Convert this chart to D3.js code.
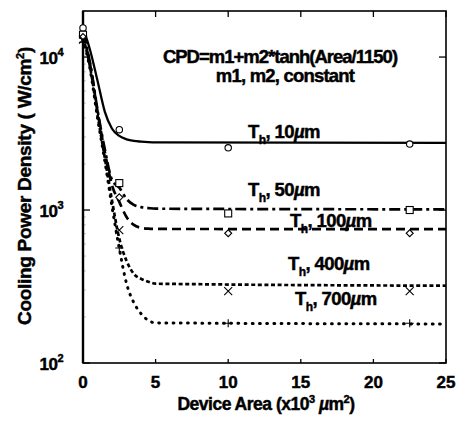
<!DOCTYPE html>
<html>
<head>
<meta charset="utf-8">
<script src="https://cdn.jsdelivr.net/npm/d3@7"></script>
<style>
  body { margin: 0; background: #fff; }
  svg text { font-family: "Liberation Sans", Arial, Helvetica, sans-serif; font-weight: bold; fill: #000; stroke: #000; stroke-width: 0.45; }
</style>
</head>
<body>
<div id="plotarea"></div>
<script>
// fitted curves (x in 10^3 um^2, y in W/cm^2)
var curveX = [0, 0.5, 1, 1.5, 2, 2.5, 3, 3.5, 4, 4.5, 5, 25];
var th10  = [15500, 11000, 7000, 4400, 3400, 3050, 2900, 2830, 2800, 2780, 2770, 2750];
var th50  = [14500, 9000, 4500, 2500, 1570, 1400, 1180, 1080, 1045, 1030, 1020, 1010];
var th100 = [14000, 8800, 4400, 2400, 1450, 1130, 900, 800, 765, 755, 752, 750];
var th400 = [13500, 8500, 4200, 2200, 1150, 650, 465, 383, 355, 340, 330, 320];
var th700 = [13000, 8200, 4000, 2100, 1050, 560, 330, 248, 210, 190, 183, 180];

// measured points
var pointX = [0, 2.5, 10, 22.5];
var pts10  = [15500, 3350, 2550, 2700];
var pts50  = [14000, 1500, 950, 1000];
var pts100 = [13500, 1210, 705, 705];
var pts400 = [13000, 740, 295, 295];
var pts700 = [12500, 565, 182, 182];

var seriesNames = ["10", "50", "100", "400", "700"];
var xTicks = [0, 5, 10, 15, 20, 25];
var yTicks = [100, 1000, 10000];

var W = 458, H = 422;
var margin_left = 83, margin_right = 12, margin_top = 11, margin_bottom = 59;

var svg = d3.select("#plotarea").append("svg")
  .attr("width", W).attr("height", H);

var x_axis = d3.scaleLinear().domain([0, 25]).range([margin_left, W - margin_right]);
var y_axis = d3.scaleLog().domain([100, 20000]).range([H - margin_bottom, margin_top]);

var series = [
  { name: seriesNames[0], curve: th10,  pts: pts10,  dash: null,        width: 2.3, cap: "butt",  mark: "circle" },
  { name: seriesNames[1], curve: th50,  pts: pts50,  dash: "11,4,3,4",  width: 2.7, cap: "butt",  mark: "square" },
  { name: seriesNames[2], curve: th100, pts: pts100, dash: "9,5",       width: 2.7, cap: "butt",  mark: "diamond" },
  { name: seriesNames[3], curve: th400, pts: pts400, dash: "4,2.6",     width: 2.7, cap: "butt",  mark: "cross" },
  { name: seriesNames[4], curve: th700, pts: pts700, dash: "0.8,6.4",   width: 3,   cap: "round", mark: "plus" }
];

// minor ticks (log), faint
var minor = [];
[100, 1000, 10000].forEach(function (d) {
  for (var k = 2; k <= 9; k++) { if (d * k <= 20000) minor.push(d * k); }
});
var x0 = x_axis(0), x1 = x_axis(25), y0 = y_axis(100), y1 = y_axis(20000);
svg.append("g").selectAll("line").data(minor).enter().append("line")
  .attr("x1", x0).attr("x2", x0 + 3)
  .attr("y1", function (d) { return y_axis(d); }).attr("y2", function (d) { return y_axis(d); })
  .attr("stroke", "#999").attr("stroke-width", 0.6);

// major ticks inward
var tk = svg.append("g").attr("stroke", "#000").attr("stroke-width", 1.3);
yTicks.forEach(function (d) {
  tk.append("line").attr("x1", x0).attr("x2", x0 + 7).attr("y1", y_axis(d)).attr("y2", y_axis(d));
  tk.append("line").attr("x1", x1).attr("x2", x1 - 7).attr("y1", y_axis(d)).attr("y2", y_axis(d));
});
xTicks.forEach(function (d) {
  tk.append("line").attr("x1", x_axis(d)).attr("x2", x_axis(d)).attr("y1", y1).attr("y2", y1 + 6);
  tk.append("line").attr("x1", x_axis(d)).attr("x2", x_axis(d)).attr("y1", y0).attr("y2", y0 - 4);
});

// frame
svg.append("rect").attr("x", x0).attr("y", y1).attr("width", x1 - x0).attr("height", y0 - y1)
  .attr("fill", "none").attr("stroke", "#000").attr("stroke-width", 1.6);
svg.append("line").attr("x1", x0).attr("x2", x0).attr("y1", y1).attr("y2", y0)
  .attr("stroke", "#000").attr("stroke-width", 2.4);

// curves
var line = d3.line()
  .x(function (d) { return x_axis(d[0]); })
  .y(function (d) { return y_axis(d[1]); })
  .curve(d3.curveMonotoneX);

series.forEach(function (s) {
  var data = curveX.map(function (v, i) { return [v, s.curve[i]]; });
  svg.append("path").datum(data)
    .attr("d", line)
    .attr("fill", "none").attr("stroke", "#000")
    .attr("stroke-width", s.width)
    .attr("stroke-linecap", s.cap)
    .attr("stroke-dasharray", s.dash);
});

// markers
series.forEach(function (s) {
  var g = svg.append("g").attr("fill", "#fff").attr("stroke", "#000").attr("stroke-width", 1.1);
  pointX.forEach(function (v, i) {
    var px = x_axis(v), py = y_axis(s.pts[i]);
    if (s.mark === "circle") g.append("circle").attr("cx", px).attr("cy", py).attr("r", 3.2);
    if (s.mark === "square") g.append("rect").attr("x", px - 3.5).attr("y", py - 3.5).attr("width", 7).attr("height", 7);
    if (s.mark === "diamond") g.append("path").attr("d", "M" + px + "," + (py - 3.5) + "l3.5,3.5l-3.5,3.5l-3.5,-3.5z");
    if (s.mark === "cross") g.append("path").attr("d", "M" + (px - 4) + "," + (py - 4) + "l8,8M" + (px + 4) + "," + (py - 4) + "l-8,8");
    if (s.mark === "plus") g.append("path").attr("d", "M" + (px - 4) + "," + py + "h8M" + px + "," + (py - 4) + "v8");
  });
});

// tick labels
svg.append("g").selectAll("text").data(xTicks).enter().append("text")
  .attr("x", function (d) { return x_axis(d); }).attr("y", 388)
  .attr("text-anchor", "middle").attr("font-size", 17)
  .text(function (d) { return d; });

yTicks.forEach(function (d) {
  var t = svg.append("text").attr("x", 63).attr("y", y_axis(d) + 7)
    .attr("text-anchor", "end").attr("font-size", 17).attr("letter-spacing", -0.5);
  t.append("tspan").text("10");
  t.append("tspan").attr("dy", -8).attr("font-size", 11).text(Math.round(Math.log10(d)));
});

// axis titles
var xl = svg.append("text").attr("x", 266).attr("y", 410).attr("text-anchor", "middle")
  .attr("font-size", 17.5).attr("letter-spacing", -0.5);
xl.append("tspan").text("Device Area (x10");
xl.append("tspan").attr("dy", -7).attr("font-size", 11).text("3");
xl.append("tspan").attr("dy", 7).text(" ");
xl.append("tspan").attr("font-style", "italic").text("\u00b5");
xl.append("tspan").text("m");
xl.append("tspan").attr("dy", -7).attr("font-size", 11).text("2");
xl.append("tspan").attr("dy", 7).text(")");

var yl = svg.append("text").attr("transform", "translate(31,186) rotate(-90)")
  .attr("text-anchor", "middle").attr("font-size", 19).attr("letter-spacing", -0.3);
yl.append("tspan").text("Cooling Power Density ( W/cm");
yl.append("tspan").attr("dy", -7).attr("font-size", 11).text("2");
yl.append("tspan").attr("dy", 7).text(")");

// formula
svg.append("text").attr("x", 280).attr("y", 63).attr("text-anchor", "middle")
  .attr("font-size", 18.5).attr("letter-spacing", -1).text("CPD=m1+m2*tanh(Area/1150)");
svg.append("text").attr("x", 285).attr("y", 82).attr("text-anchor", "middle")
  .attr("font-size", 18.5).attr("letter-spacing", -0.8).text("m1, m2, constant");

// curve labels
var labelPos = [[248, 138], [248, 196], [290, 227], [288, 270], [295, 305]];
series.forEach(function (s, i) {
  var t = svg.append("text").attr("x", labelPos[i][0]).attr("y", labelPos[i][1])
    .attr("font-size", 18.5).attr("letter-spacing", -0.6);
  t.append("tspan").text("T");
  t.append("tspan").attr("dy", 6).attr("font-size", 12).text("h");
  t.append("tspan").attr("dy", -6).text(", " + s.name);
  t.append("tspan").attr("font-style", "italic").text("\u00b5");
  t.append("tspan").text("m");
});
</script>
</body>
</html>
